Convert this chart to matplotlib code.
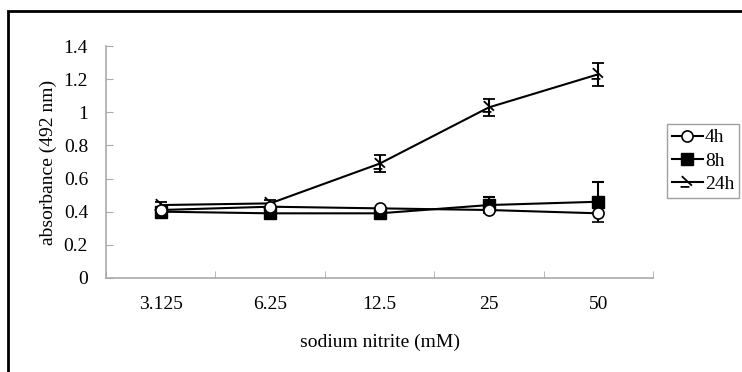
import numpy as np
import matplotlib.pyplot as plt
from matplotlib.path import Path
from matplotlib.patches import Rectangle
from matplotlib.lines import Line2D

plt.rcParams['font.family'] = ['Liberation Serif', 'DejaVu Serif']

conc_labels = ["3.125", "6.25", "12.5", "25", "50"]
abs_4h = [0.41, 0.43, 0.42, 0.41, 0.39]
abs_8h = [0.40, 0.39, 0.39, 0.44, 0.46]
abs_24h = [0.44, 0.45, 0.69, 1.03, 1.23]
# one-sided error bars as drawn in the source (minus for 4h, plus for 8h)
err_4h_lo = [0.02, 0.02, 0.02, 0.02, 0.05]
err_8h_hi = [0.02, 0.02, 0.02, 0.05, 0.12]
err_24h = [0.02, 0.02, 0.05, 0.05, 0.07]

fig = plt.figure(figsize=(7.42, 3.72), dpi=100)
ax = fig.add_axes([0.143, 0.253, 0.737, 0.623])

x = np.arange(len(conc_labels))
zero = [0] * len(x)

# odd slanted marker used for 24h
zmark = Path([(-0.45, 0.5), (0.35, -0.25), (-0.55, -0.35), (0.15, -0.35)],
             [Path.MOVETO, Path.LINETO, Path.MOVETO, Path.LINETO])

ax.errorbar(x, abs_24h, yerr=err_24h, color='black', lw=1.5, capsize=4,
            capthick=1.5, elinewidth=1.5, marker=zmark, ms=10, mew=1.3,
            mfc='white', zorder=3)
ax.errorbar(x, abs_8h, yerr=[zero, err_8h_hi], color='black', lw=1.5, capsize=4,
            capthick=1.5, elinewidth=1.5, marker='s', ms=8, mfc='black', zorder=3)
ax.errorbar(x, abs_4h, yerr=[err_4h_lo, zero], color='black', lw=1.5, capsize=4,
            capthick=1.5, elinewidth=1.5, marker='o', ms=8, mfc='white', mew=1.2,
            zorder=4)

ax.set_xlim(-0.5, len(x) - 0.5)
ax.set_ylim(0, 1.4)
ax.set_yticks(np.arange(0, 1.41, 0.2))
ax.set_yticklabels(['0', '0.2', '0.4', '0.6', '0.8', '1', '1.2', '1.4'], fontsize=14)
ax.set_xticks(x)
ax.set_xticklabels(conc_labels, fontsize=14)
ax.set_xticks(np.arange(-0.5, len(x), 1.0), minor=True)
ax.tick_params(axis='x', which='major', length=0, pad=13)
ax.tick_params(axis='x', which='minor', direction='in', length=5, color='#aaaaaa')
ax.tick_params(axis='y', direction='in', length=5, color='#aaaaaa', pad=13)

for s in ['top', 'right']:
    ax.spines[s].set_visible(False)
for s in ['left', 'bottom']:
    ax.spines[s].set_color('#aaaaaa')
    ax.spines[s].set_linewidth(1.2)

ax.set_xlabel('sodium nitrite (mM)', fontsize=14, labelpad=15)
ax.set_ylabel('absorbance (492 nm)', fontsize=14, labelpad=5)

handles = [
    Line2D([], [], color='black', lw=1.5, marker='o', ms=8, mfc='white', mew=1.2),
    Line2D([], [], color='black', lw=1.5, marker='s', ms=8, mfc='black'),
    Line2D([], [], color='black', lw=1.5, marker=zmark, ms=10, mew=1.3),
]
leg = fig.legend(handles, ['4h', '8h', '24h'],
                 loc='upper left', bbox_to_anchor=(0.899, 0.667), fontsize=14,
                 frameon=True, fancybox=False, borderpad=0.25, labelspacing=0.3,
                 handlelength=1.6, handletextpad=0.1, borderaxespad=0)
leg.get_frame().set_edgecolor('#888888')
leg.get_frame().set_linewidth(1.0)

# outer chart border (only top and left are visible in the source)
fig.patches.append(Rectangle((8 / 742, -0.1), 1.0, (372 - 11) / 372 + 0.1,
                             transform=fig.transFigure, fill=False,
                             edgecolor='black', lw=2))

fig.savefig('out.png', dpi=100)
